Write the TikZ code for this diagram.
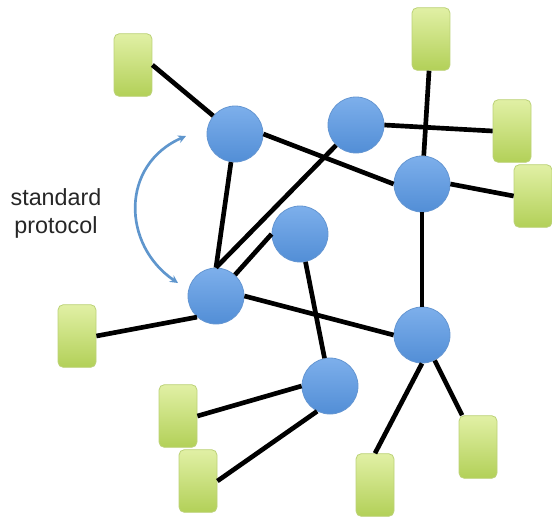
\documentclass[tikz,border=0pt]{standalone}
\usepackage{fontspec}
\setmainfont{Liberation Sans}
\usetikzlibrary{arrows.meta}

\definecolor{routerTop}{RGB}{125,175,235}
\definecolor{routerBot}{RGB}{82,142,214}
\definecolor{routerLine}{RGB}{100,150,210}
\definecolor{hostTop}{RGB}{225,240,165}
\definecolor{hostBot}{RGB}{178,208,88}
\definecolor{hostLine}{RGB}{188,210,120}
\definecolor{protoBlue}{RGB}{95,150,205}

\tikzset{
	router/.style={circle, draw=routerLine, line width=0.6pt, top color=routerTop, bottom color=routerBot, minimum size=42pt, inner sep=0pt},
	host/.style={rectangle, rounded corners=4pt, draw=hostLine, line width=0.6pt, top color=hostTop, bottom color=hostBot, minimum width=28.5pt, minimum height=47pt, inner sep=0pt},
	link/.style={line width=3.5pt, black}}
\tikzset{every picture/.style={line width=0.75pt}}

\begin{document}
\begin{tikzpicture}[x=0.75pt,y=0.75pt,yscale=-1,xscale=1]
	\useasboundingbox (0,0) rectangle (552,519);

	%Shape: Circle [routers]
	\node [router] (r1) at (235,134) {};
	\node [router] (r2) at (356,125) {};
	\node [router] (r3) at (422,184) {};
	\node [router] (r4) at (300,234) {};
	\node [router] (r5) at (216,296) {};
	\node [router] (r6) at (422,335) {};
	\node [router] (r7) at (330,386) {};

	%Shape: Rectangle [hosts]
	\node [host] (h1) at (133,65) {};
	\node [host] (h2) at (431,39) {};
	\node [host] (h3) at (512,131) {};
	\node [host] (h4) at (533,196) {};
	\node [host] (h5) at (77,336) {};
	\node [host] (h6) at (178,416) {};
	\node [host] (h7) at (198,481) {};
	\node [host] (h8) at (375,485) {};
	\node [host] (h9) at (478,447) {};

	%Links
	\draw [link] (h1.east) -- (r1);
	\draw [link] (r1.east) -- (r3.west);
	\draw [link] (r1) -- (r5.north);
	\draw [link] (r2) -- (r5.north);
	\draw [link] (r4.west) -- (r5);
	\draw [link] (r2.east) -- (h3.west);
	\draw [link] (h2) -- (r3);
	\draw [link] (r3.east) -- (h4.west);
	\draw [link] (r3) -- (r6);
	\draw [link] (r5.east) -- (r6.west);
	\draw [link] (h5.east) -- (r5.228);
	\draw [link] (r4) -- (r7);
	\draw [link] (h6.east) -- (r7.west);
	\draw [link] (h7.east) -- (r7.243);
	\draw [link] (r6.south) -- (h8.north);
	\draw [link] (r6) -- (h9);

	%Shape: Curve Arrow
	\draw [protoBlue, line width=2pt, {Stealth[length=6pt,width=6pt]}-{Stealth[length=6pt,width=6pt]}] (186,136) .. controls (120,165) and (122,245) .. (178,283);

	% Text Node
	\node [align=center, text=black!85, font=\fontsize{17.5}{21}\selectfont] (proto) at (56,213) {standard\\protocol};

\end{tikzpicture}
\end{document}
